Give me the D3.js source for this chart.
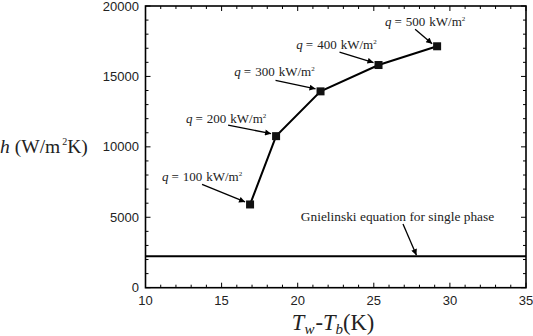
<!DOCTYPE html>
<html><head><meta charset="utf-8">
<script src="https://cdn.jsdelivr.net/npm/d3@7"></script>
<style>body{margin:0;background:#fff}svg{display:block}</style>
</head><body>
<svg id="c" width="533" height="336"></svg>
<script>
const heatFlux = [100, 200, 300, 400, 500];
const deltaT = [16.87, 18.58, 21.5, 25.31, 29.16];
const hValues = [5910, 10760, 13940, 15810, 17140];
const gnielinskiH = 2240;
const xTicks = [10, 15, 20, 25, 30, 35];
const yTicks = [0, 5000, 10000, 15000, 20000];
// label offsets (pixels) relative to point: text centre dx,dy; arrow start dx,dy
const labelLayout = [
  {tx:-48, ty:-27, ax:-48, ay:-20},
  {tx:-50, ty:-17, ax:-48, ay:-11},
  {tx:-46, ty:-19, ax:-45, ay:-11},
  {tx:-42, ty:-20, ax:-39, ay:-13},
  {tx:-12, ty:-24, ax:-22, ay:-17}
];

const svg = d3.select("#c");
const L=145.5, R=526, T=6, B=287.7;
const x = d3.scaleLinear().domain([10,35]).range([L,R]);
const y = d3.scaleLinear().domain([0,20000]).range([B,T]);

svg.append("defs").append("marker").attr("id","ah").attr("viewBox","0 0 10 10")
  .attr("refX",10).attr("refY",5).attr("markerWidth",8).attr("markerHeight",6)
  .attr("markerUnits","userSpaceOnUse").attr("orient","auto")
  .append("path").attr("d","M0,0L10,5L0,10z").attr("fill","#000");

// axes with inward ticks
const minorX = d3.range(10,36,1), minorY = d3.range(0,20001,1000);
function tickLen(v, major){return major.includes(v)?5:3;}
const g = svg.append("g").attr("stroke","#000").attr("stroke-width",1);
minorX.forEach(v=>{
  const l=tickLen(v,xTicks);
  g.append("line").attr("x1",x(v)).attr("x2",x(v)).attr("y1",B).attr("y2",B-l);
  g.append("line").attr("x1",x(v)).attr("x2",x(v)).attr("y1",T).attr("y2",T+l);
});
minorY.forEach(v=>{
  const l=tickLen(v,yTicks);
  g.append("line").attr("x1",L).attr("x2",L+l).attr("y1",y(v)).attr("y2",y(v));
  g.append("line").attr("x1",R).attr("x2",R-l).attr("y1",y(v)).attr("y2",y(v));
});
svg.append("rect").attr("x",L).attr("y",T).attr("width",R-L).attr("height",B-T)
  .attr("fill","none").attr("stroke","#000").attr("stroke-width",1.6);

const sans = "Liberation Sans, Arial, sans-serif";
const serif = "Liberation Serif, DejaVu Serif, serif";
svg.append("g").selectAll("text").data(xTicks).join("text")
  .attr("x",d=>x(d)).attr("y",305).attr("text-anchor","middle")
  .attr("font-family",sans).attr("font-size",13).attr("fill","#222").text(d=>d);
svg.append("g").selectAll("text").data(yTicks).join("text")
  .attr("x",139).attr("y",d=>y(d)+4.5).attr("text-anchor","end")
  .attr("font-family",sans).attr("font-size",13).attr("fill","#222").text(d=>d);

// Gnielinski line
svg.append("line").attr("x1",L).attr("x2",R).attr("y1",y(gnielinskiH)).attr("y2",y(gnielinskiH))
  .attr("stroke","#000").attr("stroke-width",2);

// data line
const pts = deltaT.map((d,i)=>[x(d), y(hValues[i])]);
svg.append("path").attr("d",d3.line()(pts)).attr("fill","none").attr("stroke","#000").attr("stroke-width",2);
svg.append("g").selectAll("rect").data(pts).join("rect")
  .attr("x",d=>d[0]-4).attr("y",d=>d[1]-4).attr("width",8).attr("height",8).attr("fill","#111");

// annotations
pts.forEach((p,i)=>{
  const lo = labelLayout[i];
  const t = svg.append("text").attr("x",p[0]+lo.tx).attr("y",p[1]+lo.ty+4)
    .attr("text-anchor","middle").attr("font-family",serif).attr("font-size",13).attr("fill","#222");
  t.append("tspan").attr("font-style","italic").text("q");
  t.append("tspan").attr("dx",3).text("=");
  t.append("tspan").attr("dx",4).text(heatFlux[i]);
  t.append("tspan").attr("dx",4).text("kW/m");
  t.append("tspan").attr("font-size",7).attr("dx",0).attr("dy",-5).text("2");
  svg.append("line").attr("x1",p[0]+lo.ax).attr("y1",p[1]+lo.ay)
    .attr("x2",p[0]-5).attr("y2",p[1]-2.5).attr("stroke","#000").attr("stroke-width",1.3)
    .attr("marker-end","url(#ah)");
});

// Gnielinski annotation
const gx = x(28), gy = y(gnielinskiH);
svg.append("text").attr("x",397.5).attr("y",221).attr("text-anchor","middle")
  .attr("font-family",serif).attr("font-size",13.4).attr("fill","#222")
  .text("Gnielinski equation for single phase");
svg.append("line").attr("x1",403).attr("y1",224).attr("x2",gx-3).attr("y2",gy-1)
  .attr("stroke","#000").attr("stroke-width",1.3).attr("marker-end","url(#ah)");

// axis titles
const yl = svg.append("text").attr("x",0).attr("y",153).attr("font-family",serif).attr("font-size",19.5).attr("fill","#222");
yl.append("tspan").attr("font-style","italic").text("h");
yl.append("tspan").attr("dx",5).text("(W/m");
yl.append("tspan").attr("font-size",10).attr("dy",-8).attr("dx",2).text("2");
yl.append("tspan").attr("dy",8).attr("dx",0).text("K)");

const xl = svg.append("text").attr("x",333).attr("y",330).attr("text-anchor","middle")
  .attr("font-family",serif).attr("font-size",22.5).attr("fill","#222");
xl.append("tspan").attr("font-style","italic").text("T");
xl.append("tspan").attr("font-style","italic").attr("font-size",15).attr("dy",4).text("w");
xl.append("tspan").attr("dy",-4).attr("dx",1).text("-");
xl.append("tspan").attr("font-style","italic").text("T");
xl.append("tspan").attr("font-style","italic").attr("font-size",15).attr("dy",4).text("b");
xl.append("tspan").attr("dy",-4).text("(K)");
</script>
</body></html>
